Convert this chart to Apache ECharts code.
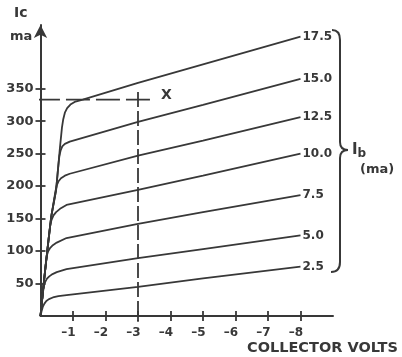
<!DOCTYPE html>
<html>
<head>
<meta charset="utf-8">
<script src="https://cdn.jsdelivr.net/npm/echarts@6/dist/echarts.min.js"></script>
<style>html,body{margin:0;padding:0;background:#fff}#c{width:402px;height:357px}</style>
</head>
<body>
<div id="c"></div>
<script>
// Collector characteristic curves: [collector volts, Ic (ma)] for each base current Ib (ma)
const ib_2_5  = [[0,0],[-0.03,7],[-0.07,14],[-0.12,19],[-0.18,23],[-0.26,26],[-0.38,28.5],[-0.55,30.5],[-0.8,32],[-3,45],[-5,58],[-8,76]];
const ib_5_0  = [[0,0],[-0.04,20],[-0.08,38],[-0.11,47],[-0.15,53],[-0.2,57.5],[-0.27,61],[-0.37,64.5],[-0.5,67.5],[-0.8,72],[-3,89],[-5,103],[-8,124]];
const ib_7_5  = [[0,0],[-0.11,55],[-0.17,85],[-0.2,94],[-0.24,100],[-0.3,105],[-0.38,109],[-0.5,113],[-0.8,120],[-3,142],[-5,160],[-8,186]];
const ib_10_0 = [[0,0],[-0.11,55],[-0.21,101],[-0.27,128],[-0.3,140],[-0.34,148],[-0.4,155],[-0.48,160],[-0.6,165],[-0.8,171],[-3,194],[-5,216],[-8,250]];
const ib_12_5 = [[0,0],[-0.11,55],[-0.21,101],[-0.33,153],[-0.42,180],[-0.46,192],[-0.5,201],[-0.55,207],[-0.63,212],[-0.75,216],[-0.9,219],[-3,247],[-5,270],[-8,306]];
const ib_15_0 = [[0,0],[-0.11,55],[-0.21,101],[-0.33,153],[-0.48,194],[-0.55,232],[-0.58,246],[-0.62,255],[-0.67,261],[-0.75,265],[-0.9,268.5],[-3,299],[-5,325],[-8,365]];
const ib_17_5 = [[0,0],[-0.11,55],[-0.21,101],[-0.33,153],[-0.48,194],[-0.6,260],[-0.66,290],[-0.7,303],[-0.75,313],[-0.82,320],[-0.92,325.5],[-1.05,329.5],[-1.3,333],[-3,359],[-8,430]];
const curveNames = ['2.5','5.0','7.5','10.0','12.5','15.0','17.5'];
const curves = [ib_2_5, ib_5_0, ib_7_5, ib_10_0, ib_12_5, ib_15_0, ib_17_5];
// Operating point X: Ic = 333 ma at -3 volts
const opCurrentLine = [[0.14,333],[-3.42,333]];
const opVoltageLine = [[-3,345],[-3,-9]];
const xTicks = [-1,-2,-3,-4,-5,-6,-7,-8];
const yTicks = [50,100,150,200,250,300,350];

const INK = '#383838';
const FONT = 'DejaVu Sans';

const chart = echarts.init(document.getElementById('c'), null, {renderer:'canvas'});

const series = curves.map((d,i)=>({
  name: curveNames[i],
  type: 'line',
  data: d.map((p,j)=> j===d.length-1 ? {value:p, label:{show:true}} : p),
  xAxisIndex: 0, yAxisIndex: 0,
  showSymbol: true,
  symbol: 'circle',
  symbolSize: 0,
  smooth: false,
  lineStyle: {color: INK, width: 1.8},
  itemStyle: {color: INK},
  label: {show:false, position:'right', distance:2, formatter:'{a}', color: INK, fontSize: 12, fontWeight:'bold', fontFamily: FONT},
  silent: true
}));
series.push({
  type:'line', data: opCurrentLine, showSymbol:false, clip:false, silent:true,
  lineStyle:{color:INK, width:1.8, type:[24,6]}
});
series.push({
  type:'line', data: opVoltageLine, showSymbol:false, clip:false, silent:true,
  lineStyle:{color:INK, width:1.8, type:[15,4]}
});

const xBase = {type:'value', min:-9, max:0, inverse:true, position:'bottom', splitLine:{show:false}};
const yBase = {type:'value', min:0, max:448, position:'left', splitLine:{show:false}};

const braceStyle = {fill:'none', stroke:INK, lineWidth:2};
const txt = (size, bold) => ({fill:INK, fontSize:size, fontFamily:FONT, fontWeight: bold ? 'bold' : 'normal'});

chart.setOption({
  animation:false,
  grid:{left:40.5, right:69, top:25, bottom:41},
  xAxis:[
    Object.assign({}, xBase, {
      axisLine:{show:true, lineStyle:{color:INK, width:2}},
      axisTick:{show:true, length:5, customValues:xTicks, lineStyle:{color:INK, width:1.8}},
      axisLabel:{show:true, customValues:xTicks, margin:11, color:INK, fontSize:12, fontWeight:'bold', fontFamily:FONT, padding:[0,9,0,0],
        formatter:v=>'\u2013'+Math.abs(v)}
    }),
    Object.assign({}, xBase, {
      axisLine:{show:false},
      axisTick:{show:true, inside:true, length:5, customValues:xTicks, lineStyle:{color:INK, width:1.8}},
      axisLabel:{show:false}
    })
  ],
  yAxis:[
    Object.assign({}, yBase, {
      axisLine:{show:true, symbol:['none','arrow'], symbolSize:[10,13], lineStyle:{color:INK, width:2}},
      axisTick:{show:true, length:5, customValues:yTicks, lineStyle:{color:INK, width:1.8}},
      axisLabel:{show:true, customValues:yTicks, margin:7, color:INK, fontSize:13, fontWeight:'bold', fontFamily:FONT}
    }),
    Object.assign({}, yBase, {
      axisLine:{show:false},
      axisTick:{show:true, inside:true, length:5, customValues:yTicks, lineStyle:{color:INK, width:1.8}},
      axisLabel:{show:false}
    })
  ],
  series: series,
  graphic:[
    {type:'text', left:14, top:6, style:Object.assign({text:'Ic'}, txt(14,true))},
    {type:'text', left:10, top:30, style:Object.assign({text:'ma'}, txt(13,true))},
    {type:'text', left:161, top:88, style:Object.assign({text:'X'}, txt(14,true))},
    {type:'bezierCurve', shape:{x1:332,y1:30,cpx1:340,cpy1:30,x2:340,y2:40}, style:braceStyle},
    {type:'line', shape:{x1:340,y1:40,x2:340,y2:142}, style:braceStyle},
    {type:'bezierCurve', shape:{x1:340,y1:142,cpx1:340,cpy1:150,x2:348,y2:150}, style:braceStyle},
    {type:'bezierCurve', shape:{x1:348,y1:150,cpx1:340,cpy1:150,x2:340,y2:158}, style:braceStyle},
    {type:'line', shape:{x1:340,y1:158,x2:340,y2:262}, style:braceStyle},
    {type:'bezierCurve', shape:{x1:340,y1:262,cpx1:340,cpy1:272,x2:331,y2:272}, style:braceStyle},
    {type:'text', left:352, top:143, style:{text:'{a|I}{b|b}', fill:INK,
      rich:{a:txt(15,true), b:Object.assign(txt(12,true), {padding:[6,0,0,0]})}}},
    {type:'text', left:360, top:163, style:Object.assign({text:'(ma)'}, txt(13,true))},
    {type:'text', left:247, top:341, style:Object.assign({text:'COLLECTOR VOLTS'}, txt(14.5,true))}
  ]
});
</script>
</body>
</html>
